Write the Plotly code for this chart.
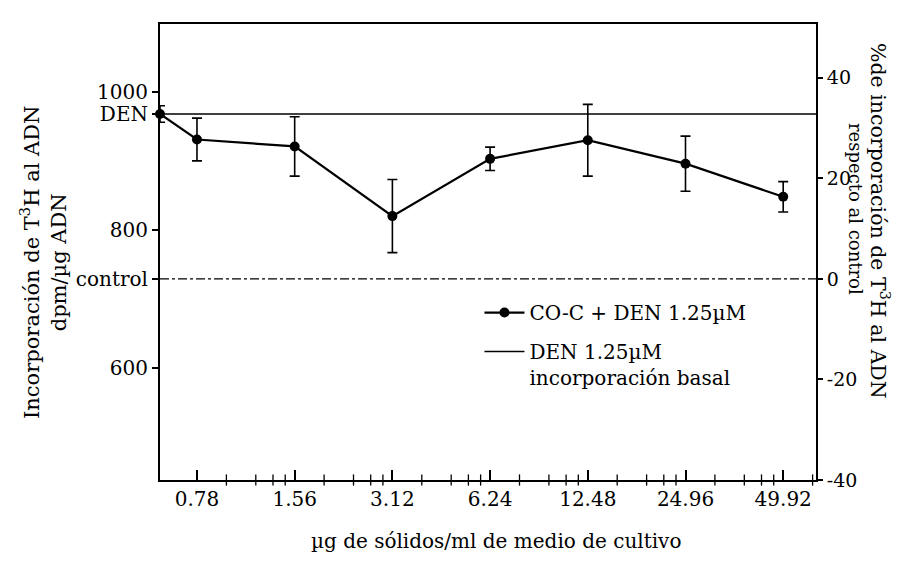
import math
import plotly.graph_objects as go

# ---- data ----
dose_labels = ["0.78", "1.56", "3.12", "6.24", "12.48", "24.96", "49.92"]
doses = [0.78, 1.56, 3.12, 6.24, 12.48, 24.96, 49.92]
den_alone_x = 0.60            # DEN-only point, drawn on the left axis (axis origin)
x_range = [0.60, 63.0]

series_x = [den_alone_x] + doses
series_mean = [968, 931, 921, 820, 903, 930, 896, 848]   # dpm/µg ADN
series_err = [12, 31, 43, 53, 17, 52, 40, 22]

den_basal = 968     # DEN 1.25µM basal incorporation
control = 729       # control incorporation (0 %)
y_range = [437.4, 1098.5]
left_ticks = [600, 800, 1000]
right_ticks = [-40, -20, 0, 20, 40]

FONT = "DejaVu Serif"
log_range = [math.log10(x_range[0]), math.log10(x_range[1])]

# minor ticks of the log-cycle paper: (2,4,6,8)-pattern within every octave
cycle_fracs = [0.301, 0.602, 0.778, 0.903]
minor_vals = [d * 2 ** f for d in doses for f in cycle_fracs]
minor_vals = [v for v in minor_vals if v < x_range[1]]

fig = go.Figure()

fig.add_trace(go.Scatter(
    x=series_x, y=series_mean,
    mode="lines+markers",
    name="CO-C + DEN 1.25µM", legendgroup="a",
    line=dict(color="black", width=2.2),
    marker=dict(color="black", size=10),
    error_y=dict(type="data", array=series_err, visible=True,
                 color="black", thickness=1.6, width=5),
    cliponaxis=False,
))

fig.add_trace(go.Scatter(
    x=x_range, y=[den_basal, den_basal],
    mode="lines", legendgroup="b",
    name="DEN 1.25µM<br>incorporación basal",
    line=dict(color="black", width=1.6),
))

fig.add_trace(go.Scatter(
    x=x_range, y=[control, control],
    mode="lines", showlegend=False,
    line=dict(color="black", width=1.3, dash="dashdot"),
))

# minor tick marks crossing the bottom axis
fig.add_trace(go.Scatter(
    x=minor_vals, y=[y_range[0]] * len(minor_vals),
    mode="markers", showlegend=False, hoverinfo="skip", cliponaxis=False,
    marker=dict(symbol="line-ns", size=8, color="black",
                line=dict(color="black", width=1.3)),
))

# invisible trace to activate the right axis
fig.add_trace(go.Scatter(
    x=[doses[0]], y=[0], yaxis="y2", mode="markers",
    marker=dict(opacity=0), showlegend=False, hoverinfo="skip",
))

y2_range = [(y_range[0] / control - 1) * 100, (y_range[1] / control - 1) * 100]

fig.update_layout(
    width=904, height=561,
    margin=dict(l=160, r=88, t=24, b=81),
    paper_bgcolor="white", plot_bgcolor="white",
    font=dict(family=FONT, size=20, color="black"),
    showlegend=True,
    legend=dict(x=0.487, y=0.41, xanchor="left", yanchor="top",
                bgcolor="rgba(0,0,0,0)", font=dict(size=20),
                itemwidth=40, tracegroupgap=10, traceorder="grouped",
                valign="top"),
    xaxis=dict(
        type="log", range=log_range,
        tickmode="array", tickvals=doses, ticktext=dose_labels,
        ticks="inside", ticklen=10, tickwidth=1.5, tickcolor="black",
        showline=True, linewidth=2, linecolor="black", mirror=True,
        showgrid=False, zeroline=False,
        tickfont=dict(size=20),
    ),
    yaxis=dict(
        range=y_range,
        tickmode="array",
        tickvals=left_ticks + [den_basal, control],
        ticktext=[str(v) for v in left_ticks] + ["DEN", "control"],
        ticks="outside", ticklen=6, tickwidth=1.5, tickcolor="black",
        showline=True, linewidth=2, linecolor="black",
        showgrid=False, zeroline=False,
        tickfont=dict(size=20),
    ),
    yaxis2=dict(
        overlaying="y", side="right", range=y2_range,
        tickmode="array", tickvals=right_ticks,
        ticktext=[str(v) for v in right_ticks],
        ticks="outside", ticklen=5, tickwidth=1.5, tickcolor="black",
        showline=True, linewidth=2, linecolor="black",
        showgrid=False, zeroline=False,
        tickfont=dict(size=19),
    ),
    annotations=[
        dict(text="Incorporación de T<sup>3</sup>H al ADN<br>dpm/µg ADN",
             xref="paper", yref="paper", x=(43 - 160) / 656, y=1 - (263 - 24) / 456,
             xanchor="center", yanchor="middle", textangle=-90,
             showarrow=False, font=dict(size=21)),
        dict(text="%de incorporación de T<sup>3</sup>H al ADN",
             xref="paper", yref="paper", x=(880 - 160) / 656, y=1 - (221 - 24) / 456,
             xanchor="center", yanchor="middle", textangle=90,
             showarrow=False, font=dict(size=20.5)),
        dict(text="respecto al control",
             xref="paper", yref="paper", x=(856 - 160) / 656, y=1 - (209 - 24) / 456,
             xanchor="center", yanchor="middle", textangle=90,
             showarrow=False, font=dict(size=18)),
        dict(text="µg de sólidos/ml de medio de cultivo",
             xref="paper", yref="paper", x=(496 - 160) / 656, y=1 - (541 - 24) / 456,
             xanchor="center", yanchor="middle",
             showarrow=False, font=dict(size=20)),
    ],
)

fig.write_html("out.html")
